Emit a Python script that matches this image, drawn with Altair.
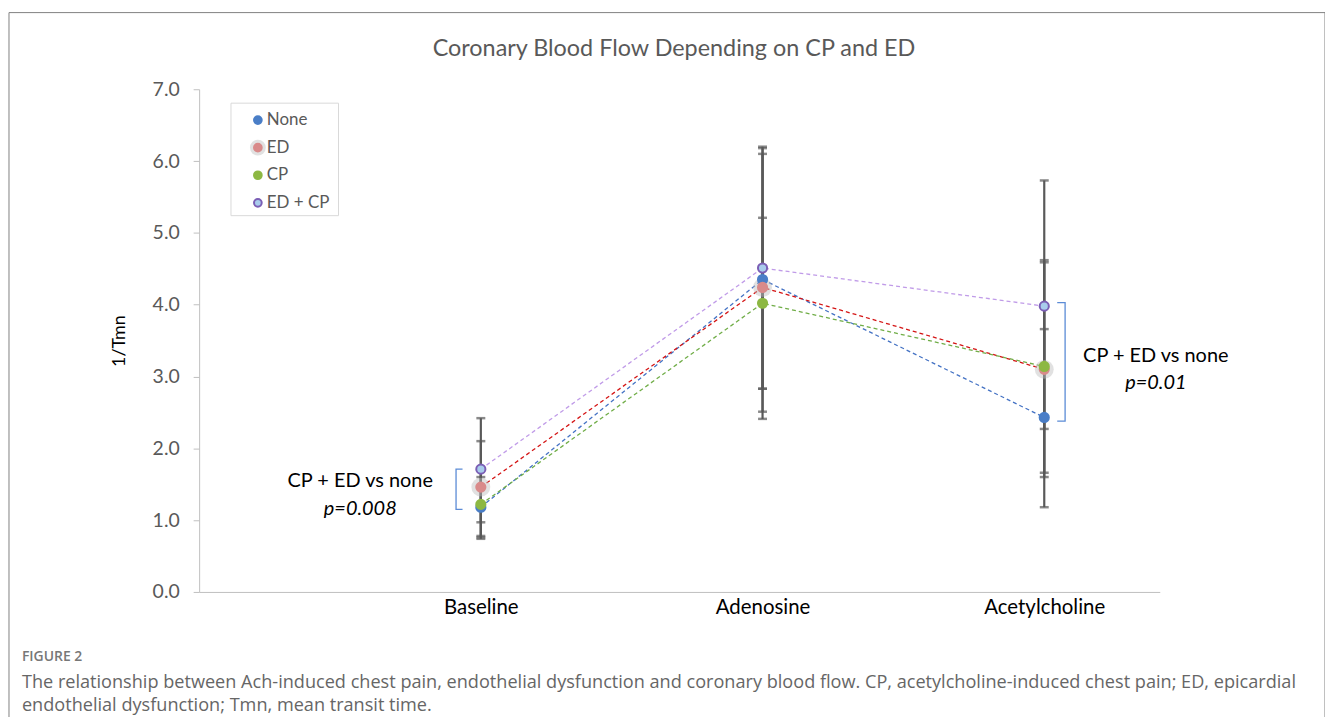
import altair as alt
import pandas as pd

# ---------------- data ----------------
categories = ["Baseline", "Adenosine", "Acetylcholine"]
x_pos = [1, 2, 3]
series = ["None", "ED", "CP", "ED + CP"]

means = {
    "None":    [1.18, 4.35, 2.43],
    "ED":      [1.46, 4.24, 3.10],
    "CP":      [1.22, 4.02, 3.14],
    "ED + CP": [1.71, 4.51, 3.98],
}
upper = {
    "None":    [1.60, 6.18, 3.66],
    "ED":      [2.10, 6.10, 4.59],
    "CP":      [1.70, 5.21, 4.62],
    "ED + CP": [2.42, 6.20, 5.73],
}
lower = {
    "None":    [0.76, 2.51, 1.18],
    "ED":      [0.78, 2.41, 1.60],
    "CP":      [0.74, 2.83, 1.66],
    "ED + CP": [0.97, 2.83, 2.27],
}

line_colors = ["#4472C4", "#D41414", "#70AD47", "#C09BE8"]
fill_colors = ["#4A7EC7", "#D98A8A", "#8DB843", "#A9CCEC"]
stroke_colors = ["#4A7EC7", "#D98A8A", "#8DB843", "#7B5EB5"]

# bracket annotations (data units)
bracket_bar_x = [0.912, 3.074]
bracket_tip_x = [0.935, 3.046]
bracket_top = [1.71, 4.03]
bracket_bottom = [1.15, 2.38]

ann_x = [0.572, 0.572, 3.396, 3.396]
ann_y = [1.54, 1.16, 3.29, 2.91]
ann_text = ["CP + ED vs none", "p=0.008", "CP + ED vs none", "p=0.01"]
ann_italic = [False, True, False, True]

title_text = "Coronary Blood Flow Depending on CP and ED"
fig_label = "FIGURE 2"
caption_lines = [
    "The relationship between Ach-induced chest pain, endothelial dysfunction and coronary blood flow. CP, acetylcholine-induced chest pain; ED, epicardial",
    "endothelial dysfunction; Tmn, mean transit time.",
]

# ---------------- tables ----------------
rows = []
for i, (c, xp) in enumerate(zip(categories, x_pos)):
    for s in series:
        rows.append({"cat": c, "x": xp, "series": s, "mean": means[s][i],
                     "hi": upper[s][i], "lo": lower[s][i]})
df = pd.DataFrame(rows)
df["order"] = df["series"].map({s: k for k, s in enumerate(series)})

caps = pd.concat([
    df[["x", "series", "hi"]].rename(columns={"hi": "v"}),
    df[["x", "series", "lo"]].rename(columns={"lo": "v"}),
])

br_rows = []
for b in range(len(bracket_bar_x)):
    pts = [(bracket_tip_x[b], bracket_top[b]), (bracket_bar_x[b], bracket_top[b]),
           (bracket_bar_x[b], bracket_bottom[b]), (bracket_tip_x[b], bracket_bottom[b])]
    for k, (bx, by) in enumerate(pts):
        br_rows.append({"b": b, "k": k, "x": bx, "y": by})
br = pd.DataFrame(br_rows)

ann = pd.DataFrame({"x": ann_x, "y": ann_y, "t": ann_text, "it": ann_italic})

leg = pd.DataFrame({"series": series, "i": list(range(len(series)))})

FONT = "Lato"
W, H = 965, 505

xscale = alt.Scale(domain=[0, 3.41], nice=False, zero=False)
yscale = alt.Scale(domain=[0, 7], nice=False)

label_expr = "datum.value == 1 ? 'Baseline' : datum.value == 2 ? 'Adenosine' : 'Acetylcholine'"

x_enc = alt.X("x:Q", scale=xscale,
              axis=alt.Axis(values=[1, 2, 3], labelExpr=label_expr, ticks=False,
                            title=None, domainColor="#BFBFBF", labelColor="#000000",
                            labelFontSize=20.5, labelFont=FONT, labelPadding=6,
                            grid=False, labelFlush=False))
y_enc = alt.Y("mean:Q", scale=yscale,
              axis=alt.Axis(values=[k * 0.5 for k in range(15)],
                            labelExpr="datum.value % 1 == 0 ? format(datum.value, '.1f') : ''",
                            title="1/Tmn", titleFont=FONT, titleFontSize=18,
                            titleFontWeight="normal", titleColor="#000000",
                            titlePadding=24, labelFont=FONT, labelFontSize=19.5,
                            labelColor="#595959", labelPadding=14, tickSize=6,
                            tickColor="#BFBFBF", domainColor="#BFBFBF", grid=False))

fill_scale = alt.Scale(domain=series, range=fill_colors)
stroke_scale = alt.Scale(domain=series, range=stroke_colors)

base = alt.Chart(df)

lines = base.mark_line(strokeDash=[4, 3], strokeWidth=1.3).encode(
    x=x_enc, y=y_enc,
    color=alt.Color("series:N", scale=alt.Scale(domain=series, range=line_colors), legend=None),
    detail="series:N", order="x:Q")

rules = base.mark_rule(color="#595959", strokeWidth=2.2).encode(
    x="x:Q", y="lo:Q", y2="hi:Q")

cap_marks = alt.Chart(caps).mark_tick(color="#595959", orient="horizontal",
                                      size=9, thickness=2.5).encode(
    x="x:Q", y="v:Q")

halo = base.transform_filter(alt.datum.series == "ED").mark_circle(
    size=360, color="#BDBDBD", opacity=0.45).encode(x="x:Q", y="mean:Q")

points = base.mark_point(filled=True, size=85, strokeWidth=2, opacity=1).encode(
    x="x:Q", y="mean:Q",
    fill=alt.Fill("series:N", scale=fill_scale, legend=None),
    stroke=alt.Stroke("series:N", scale=stroke_scale, legend=None),
    order=alt.Order("order:Q"))

brackets = alt.Chart(br).mark_line(color="#5B8BD6", strokeWidth=1.3).encode(
    x="x:Q", y="y:Q", detail="b:N", order="k:Q")

ann_normal = alt.Chart(ann).transform_filter("!datum.it").mark_text(
    font=FONT, fontSize=20, color="#000000", align="center", baseline="middle").encode(
    x="x:Q", y="y:Q", text="t:N")
ann_ital = alt.Chart(ann).transform_filter("datum.it").mark_text(
    font=FONT, fontSize=20, fontStyle="italic", color="#000000", align="center",
    baseline="middle").encode(x="x:Q", y="y:Q", text="t:N")

# ---- manual legend (pixel layout relative to plot area) ----
leg_base = alt.Chart(leg).transform_calculate(py="31 + 27.7 * datum.i")
leg_box = alt.Chart(pd.DataFrame({"a": [0]})).mark_rect(
    fill="white", stroke="#D9D9D9", strokeWidth=1).encode(
    x=alt.value(32), x2=alt.value(140), y=alt.value(14), y2=alt.value(127))
leg_halo = leg_base.transform_filter(alt.datum.series == "ED").mark_circle(
    size=250, color="#BDBDBD", opacity=0.45).encode(
    x=alt.value(59), y=alt.Y("py:Q", scale=None))
leg_sym = leg_base.mark_point(filled=True, size=60, strokeWidth=2, opacity=1).encode(
    x=alt.value(59), y=alt.Y("py:Q", scale=None),
    fill=alt.Fill("series:N", scale=fill_scale, legend=None),
    stroke=alt.Stroke("series:N", scale=stroke_scale, legend=None))
leg_txt = leg_base.mark_text(font=FONT, fontSize=17, color="#595959", align="left",
                             baseline="middle").encode(
    x=alt.value(68), y=alt.Y("py:Q", scale=None), text="series:N")

title = alt.Chart(pd.DataFrame({"t": [title_text]})).mark_text(
    font=FONT, fontSize=23.5, color="#595959", align="center", baseline="middle").encode(
    x=alt.value(477), y=alt.value(-40), text="t:N")

frame = alt.Chart(pd.DataFrame({"a": [0]})).mark_rect(
    fill=None, stroke="#808080", strokeWidth=1).encode(
    x=alt.value(-191), x2=alt.value(1131), y=alt.value(-77), y2=alt.value(700))

fig = alt.Chart(pd.DataFrame({"t": [fig_label]})).mark_text(
    font="Open Sans", fontSize=14, fontWeight=600, color="#777777",
    align="left", baseline="middle").encode(
    x=alt.value(-178), y=alt.value(570), text="t:N")

cap1 = alt.Chart(pd.DataFrame({"t": [caption_lines[0]]})).mark_text(
    font="Open Sans", fontSize=18.2, color="#666666", align="left",
    baseline="middle").encode(x=alt.value(-178), y=alt.value(596), text="t:N")
cap2 = alt.Chart(pd.DataFrame({"t": [caption_lines[1]]})).mark_text(
    font="Open Sans", fontSize=18.2, color="#666666", align="left",
    baseline="middle").encode(x=alt.value(-178), y=alt.value(620), text="t:N")

chart = alt.layer(
    frame, lines, rules, cap_marks, halo, points, brackets, ann_normal, ann_ital,
    leg_box, leg_halo, leg_sym, leg_txt,
    title, fig, cap1, cap2
).properties(
    width=W, height=H,
    autosize=alt.AutoSizeParams(type="none"),
    padding={"left": 192, "top": 80, "right": 166, "bottom": 124},
).configure_view(stroke=None)

chart.save("out.html", embed_options={"renderer": "svg", "actions": False})
